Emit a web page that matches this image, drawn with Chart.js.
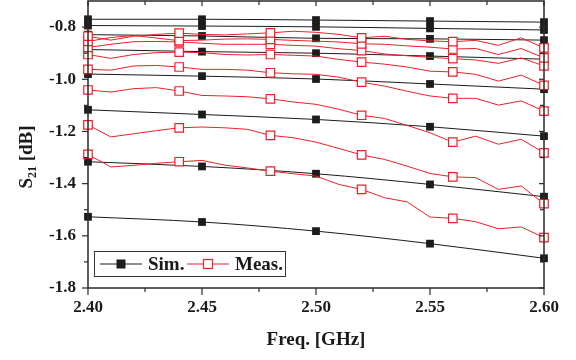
<!DOCTYPE html>
<html lang="en">
<head>
  <meta charset="UTF-8">
  <title>S21 vs Freq.</title>
  <script src="https://cdn.jsdelivr.net/npm/chart.js"></script>
  <style>
    html, body { margin: 0; padding: 0; background: #ffffff; }
    #wrap { width: 576px; height: 360px; }
  </style>
</head>
<body>
  <div id="wrap"><canvas id="s21"></canvas></div>

<script>
  // frequencies (GHz)
  const freqSim = [2.40, 2.45, 2.50, 2.55, 2.60]
  const freqMeas = [2.40, 2.41, 2.42, 2.43, 2.44, 2.45, 2.46, 2.47, 2.48, 2.49, 2.50,
                    2.51, 2.52, 2.53, 2.54, 2.55, 2.56, 2.57, 2.58, 2.59, 2.60]

  // simulated S21 (dB), one array per curve, top to bottom
  const sim1 = [-0.770, -0.770, -0.773, -0.777, -0.781]
  const sim2 = [-0.794, -0.796, -0.799, -0.805, -0.811]
  const sim3 = [-0.829, -0.834, -0.843, -0.845, -0.850]
  const sim4 = [-0.886, -0.894, -0.900, -0.911, -0.923]
  const sim5 = [-0.980, -0.988, -0.999, -1.018, -1.038]
  const sim6 = [-1.117, -1.135, -1.154, -1.182, -1.218]
  const sim7 = [-1.316, -1.334, -1.362, -1.403, -1.450]
  const sim8 = [-1.527, -1.547, -1.582, -1.630, -1.686]

  // measured S21 (dB)
  const meas1 = [-0.835, -0.850, -0.835, -0.828, -0.823, -0.828, -0.830, -0.826, -0.822, -0.816, -0.820,
                 -0.828, -0.841, -0.835, -0.847, -0.853, -0.856, -0.851, -0.870, -0.841, -0.880]
  const meas2 = [-0.855, -0.840, -0.832, -0.842, -0.852, -0.850, -0.846, -0.845, -0.847, -0.851, -0.854,
                 -0.857, -0.864, -0.866, -0.872, -0.877, -0.884, -0.882, -0.905, -0.882, -0.918]
  const meas3 = [-0.878, -0.866, -0.856, -0.855, -0.857, -0.862, -0.866, -0.866, -0.866, -0.870, -0.873,
                 -0.883, -0.890, -0.903, -0.910, -0.916, -0.921, -0.926, -0.939, -0.918, -0.949]
  const meas4 = [-0.905, -0.920, -0.905, -0.898, -0.896, -0.898, -0.905, -0.907, -0.905, -0.908, -0.911,
                 -0.924, -0.934, -0.942, -0.953, -0.969, -0.972, -0.981, -1.007, -0.984, -1.023]
  const meas5 = [-0.962, -0.965, -0.949, -0.947, -0.953, -0.962, -0.962, -0.965, -0.975, -0.979, -0.981,
                 -0.992, -1.011, -1.026, -1.046, -1.064, -1.073, -1.073, -1.099, -1.083, -1.122]
  const meas6 = [-1.041, -1.049, -1.036, -1.032, -1.045, -1.062, -1.064, -1.067, -1.075, -1.087, -1.096,
                 -1.115, -1.138, -1.150, -1.177, -1.205, -1.241, -1.218, -1.249, -1.230, -1.282]
  const meas7 = [-1.175, -1.221, -1.209, -1.197, -1.186, -1.183, -1.186, -1.192, -1.215, -1.224, -1.241,
                 -1.265, -1.290, -1.307, -1.333, -1.361, -1.374, -1.377, -1.422, -1.409, -1.477]
  const meas8 = [-1.288, -1.336, -1.330, -1.322, -1.316, -1.311, -1.329, -1.340, -1.352, -1.362, -1.371,
                 -1.403, -1.422, -1.454, -1.470, -1.528, -1.533, -1.546, -1.573, -1.566, -1.607]

  // axis ticks
  const xTicks = [2.40, 2.45, 2.50, 2.55, 2.60]
  const yTicks = [-0.8, -1.0, -1.2, -1.4, -1.6, -1.8]

  const simList = [sim1, sim2, sim3, sim4, sim5, sim6, sim7, sim8]
  const measList = [meas1, meas2, meas3, meas4, meas5, meas6, meas7, meas8]

  const BLACK = '#1c1c1c'
  const RED = '#ec2028'
  const FONT = '"Liberation Serif", "Times New Roman", serif'

  var datasets = []
  simList.forEach(vals => {
    datasets.push({
      label: 'Sim.',
      data: freqSim.map((f, k) => ({ x: f, y: vals[k] })),
      borderColor: BLACK,
      backgroundColor: BLACK,
      borderWidth: 1,
      pointStyle: 'rect',
      pointRadius: 5.5,
      pointBorderWidth: 0,
      pointBackgroundColor: BLACK,
      cubicInterpolationMode: 'monotone',
      clip: false,
      order: 2
    })
  })
  measList.forEach(vals => {
    datasets.push({
      label: 'Meas.',
      data: freqMeas.map((f, k) => ({ x: f, y: vals[k] })),
      borderColor: RED,
      borderWidth: 1,
      pointStyle: 'rect',
      pointRadius: c => (c.dataIndex % 4 === 0 ? 6 : 0),
      pointBorderWidth: 1.2,
      pointBorderColor: RED,
      pointBackgroundColor: '#ffffff',
      tension: 0,
      clip: false,
      order: 1
    })
  })

  // frame, tick marks, axis titles and the boxed legend
  const decorations = {
    id: 'decorations',
    afterDraw(chart) {
      const ctx = chart.ctx
      const a = chart.chartArea
      const xs = chart.scales.x
      const ys = chart.scales.y
      ctx.save()
      ctx.strokeStyle = '#2a2a2a'
      ctx.lineWidth = 1.5
      ctx.strokeRect(a.left, a.top, a.right - a.left, a.bottom - a.top)

      ctx.lineWidth = 1.2
      function seg(x1, y1, x2, y2) {
        ctx.beginPath(); ctx.moveTo(x1, y1); ctx.lineTo(x2, y2); ctx.stroke()
      }
      // x ticks (major + halfway minor)
      for (let i = 0; i < xTicks.length; i++) {
        let px = xs.getPixelForValue(xTicks[i])
        seg(px, a.bottom, px, a.bottom + 7)
        seg(px, a.top, px, a.top + 5)
        if (i < xTicks.length - 1) {
          let pm = xs.getPixelForValue((xTicks[i] + xTicks[i + 1]) / 2)
          seg(pm, a.bottom, pm, a.bottom + 4)
          seg(pm, a.top, pm, a.top + 4)
        }
      }
      // y ticks, minor ones halfway between labels
      for (let i = 0; i < yTicks.length; i++) {
        let py = ys.getPixelForValue(yTicks[i])
        seg(a.left - 6, py, a.left, py)
        seg(a.right - 5, py, a.right, py)
        if (i < yTicks.length - 1) {
          let pm = ys.getPixelForValue((yTicks[i] + yTicks[i + 1]) / 2)
          seg(a.left - 4, pm, a.left, pm)
          seg(a.right - 4, pm, a.right, pm)
        }
      }
      let pt = ys.getPixelForValue(yTicks[0] + 0.1)
      if (pt >= a.top + 2) { seg(a.left - 4, pt, a.left, pt); seg(a.right - 4, pt, a.right, pt) }

      ctx.fillStyle = '#1a1a1a'
      // x title
      ctx.font = 'bold 19px ' + FONT
      ctx.textAlign = 'center'
      ctx.textBaseline = 'middle'
      ctx.fillText('Freq. [GHz]', (a.left + a.right) / 2, 340)

      // y title with subscript, rotated
      ctx.save()
      ctx.translate(25, 157)
      ctx.rotate(-Math.PI / 2)
      ctx.textAlign = 'left'
      ctx.textBaseline = 'alphabetic'
      const big = 'bold 19px ' + FONT
      const small = 'bold 12px ' + FONT
      ctx.font = big
      const wS = ctx.measureText('S').width
      const wRest = ctx.measureText(' [dB]').width
      ctx.font = small
      const wSub = ctx.measureText('21').width
      let x0 = -(wS + wSub + wRest) / 2
      ctx.font = big
      ctx.fillText('S', x0, 7)
      ctx.font = small
      ctx.fillText('21', x0 + wS, 11)
      ctx.font = big
      ctx.fillText(' [dB]', x0 + wS + wSub, 7)
      ctx.restore()

      // legend box
      ctx.lineWidth = 1
      ctx.strokeStyle = '#333333'
      ctx.fillStyle = '#ffffff'
      ctx.fillRect(94, 251, 191, 25)
      ctx.strokeRect(94.5, 251.5, 191, 25)
      const ly = 264
      ctx.lineWidth = 1
      ctx.strokeStyle = BLACK
      seg(100, ly, 142, ly)
      ctx.fillStyle = BLACK
      ctx.fillRect(121 - 4.5, ly - 4.5, 9, 9)
      ctx.strokeStyle = RED
      seg(187, ly, 229, ly)
      ctx.fillStyle = '#ffffff'
      ctx.fillRect(208 - 4.5, ly - 4.5, 9, 9)
      ctx.lineWidth = 1.2
      ctx.strokeRect(208 - 4.5, ly - 4.5, 9, 9)
      ctx.fillStyle = '#1a1a1a'
      ctx.font = 'bold 19px ' + FONT
      ctx.textAlign = 'left'
      ctx.textBaseline = 'middle'
      ctx.fillText('Sim.', 148, ly + 1)
      ctx.fillText('Meas.', 235, ly + 1)
      ctx.restore()
    }
  }

  new Chart(document.getElementById('s21'), {
    type: 'line',
    data: { datasets: datasets },
    plugins: [decorations],
    options: {
      responsive: true,
      maintainAspectRatio: false,
      animation: false,
      devicePixelRatio: 1,
      layout: { autoPadding: false, padding: { top: 1, right: 32, left: 0, bottom: 0 } },
      plugins: {
        legend: { display: false },
        tooltip: { enabled: false }
      },
      scales: {
        x: {
          type: 'linear',
          min: 2.40,
          max: 2.60,
          grid: { display: false, drawTicks: false },
          border: { display: false },
          afterBuildTicks: s => { s.ticks = xTicks.map(v => ({ value: v })) },
          afterFit: s => { s.height = 72; s.paddingLeft = 0; s.paddingRight = 0 },
          ticks: {
            padding: 9,
            maxRotation: 0,
            color: '#1a1a1a',
            font: { family: FONT, size: 17, weight: 'bold' },
            callback: v => Number(v).toFixed(2)
          }
        },
        y: {
          type: 'linear',
          min: -1.8,
          max: -0.7,
          grid: { display: false, drawTicks: false },
          border: { display: false },
          afterBuildTicks: s => { s.ticks = yTicks.map(v => ({ value: v })) },
          afterFit: s => { s.width = 88; s.paddingTop = 0; s.paddingBottom = 0 },
          ticks: {
            padding: 12,
            color: '#1a1a1a',
            font: { family: FONT, size: 17, weight: 'bold' },
            callback: v => Number(v).toFixed(1)
          }
        }
      }
    }
  })
</script>
</body>
</html>
